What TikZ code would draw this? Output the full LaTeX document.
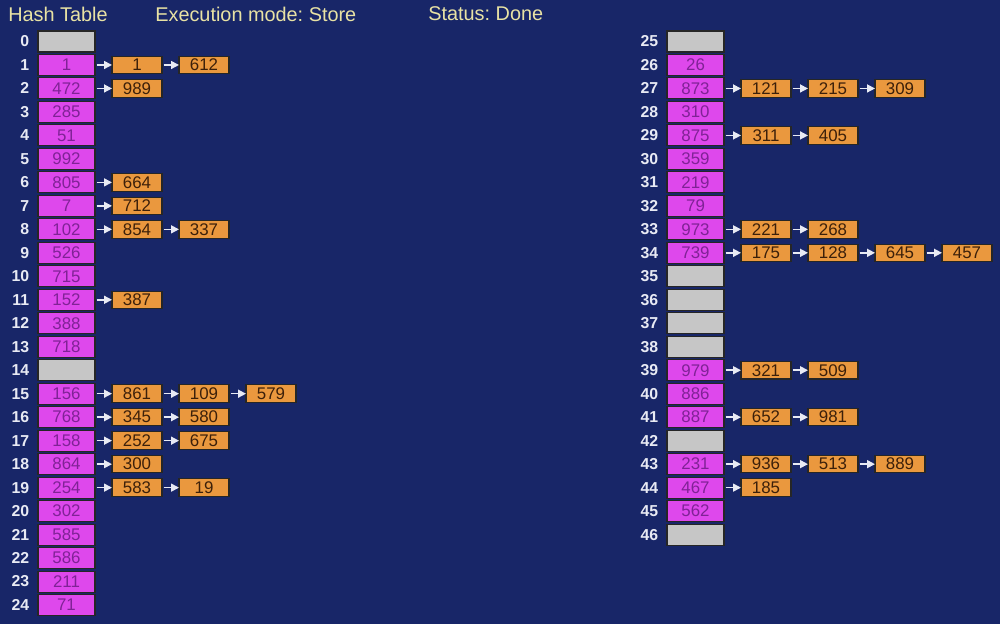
\documentclass[tikz,border=0pt]{standalone}
\usepackage{fontspec}
\setmainfont{Liberation Sans}
\usetikzlibrary{arrows.meta,positioning}

\definecolor{bgblue}{RGB}{24,38,104}
\definecolor{slotfill}{RGB}{222,72,236}
\definecolor{slottext}{RGB}{128,34,150}
\definecolor{itemfill}{RGB}{234,152,62}
\definecolor{itemtext}{RGB}{60,32,10}
\definecolor{emptyfill}{RGB}{198,198,198}
\definecolor{headtext}{RGB}{232,226,164}
\definecolor{idxtext}{RGB}{232,234,244}

\begin{document}
\frenchspacing
\begin{tikzpicture}
        [
            x=0.2mm, y=-0.2mm,
            head/.style={anchor=west, inner sep=0, text=headtext, font=\fontsize{11.3}{13}\selectfont},
            idx/.style={anchor=east, inner sep=0, text=idxtext, font=\bfseries\fontsize{9}{10}\selectfont},
            cell/.style={rectangle, draw=black!85, line width=0.6pt, inner sep=0, outer sep=0, minimum height=4.2mm, minimum width=11.4mm, font=\fontsize{9.6}{10}\selectfont},
            slot/.style={cell, fill=slotfill, text=slottext},
            empty/.style={cell, fill=emptyfill},
            item/.style={cell, fill=itemfill, text=itemtext, minimum height=3.5mm, minimum width=10mm},
            link/.style={-{Triangle[length=1.6mm, width=1.6mm]}, line width=0.9pt, draw=idxtext, shorten <=0.3mm},
        ]
            \fill[bgblue] (0,0) rectangle (1000,624);
            \useasboundingbox (0,0) rectangle (1000,624);

            % header
            \node[head] (title) at (8, 14) {Hash Table};
            \node[head] (mode) at (155, 14) {Execution mode: Store};
            \node[head] (status) at (428, 14) {Status: Done};

            % table slots
            \foreach \i/\v/\s [evaluate=\i as \col using int(\i/25)] in {
                0//empty, 1/1/slot, 2/472/slot, 3/285/slot, 4/51/slot, 5/992/slot,
                6/805/slot, 7/7/slot, 8/102/slot, 9/526/slot, 10/715/slot, 11/152/slot,
                12/388/slot, 13/718/slot, 14//empty, 15/156/slot, 16/768/slot, 17/158/slot,
                18/864/slot, 19/254/slot, 20/302/slot, 21/585/slot, 22/586/slot, 23/211/slot,
                24/71/slot,
                25//empty, 26/26/slot, 27/873/slot, 28/310/slot, 29/875/slot, 30/359/slot,
                31/219/slot, 32/79/slot, 33/973/slot, 34/739/slot, 35//empty, 36//empty,
                37//empty, 38//empty, 39/979/slot, 40/886/slot, 41/887/slot, 42//empty,
                43/231/slot, 44/467/slot, 45/562/slot, 46//empty}
            {
                \node[\s, alias=c\i-0] (m\i) at ({66.5+629*\col}, {41.5+23.48*(\i-25*\col)}) {\v};
                \node[idx, left=1.7mm of m\i] (n\i) {\i};
            }

            % chained entries
            \foreach \i/\k/\v [evaluate=\k as \p using int(\k-1)] in {
                1/1/1, 1/2/612, 2/1/989, 6/1/664, 7/1/712, 8/1/854, 8/2/337, 11/1/387,
                15/1/861, 15/2/109, 15/3/579, 16/1/345, 16/2/580, 17/1/252, 17/2/675,
                18/1/300, 19/1/583, 19/2/19,
                27/1/121, 27/2/215, 27/3/309, 29/1/311, 29/2/405, 33/1/221, 33/2/268,
                34/1/175, 34/2/128, 34/3/645, 34/4/457, 39/1/321, 39/2/509, 41/1/652,
                41/2/981, 43/1/936, 43/2/513, 43/3/889, 44/1/185}
            {
                \node[item, right=3.4mm of c\i-\p] (c\i-\k) {\v};
                \draw[link] (c\i-\p.east) -- (c\i-\k.west);
            }
        \end{tikzpicture}
\end{document}
